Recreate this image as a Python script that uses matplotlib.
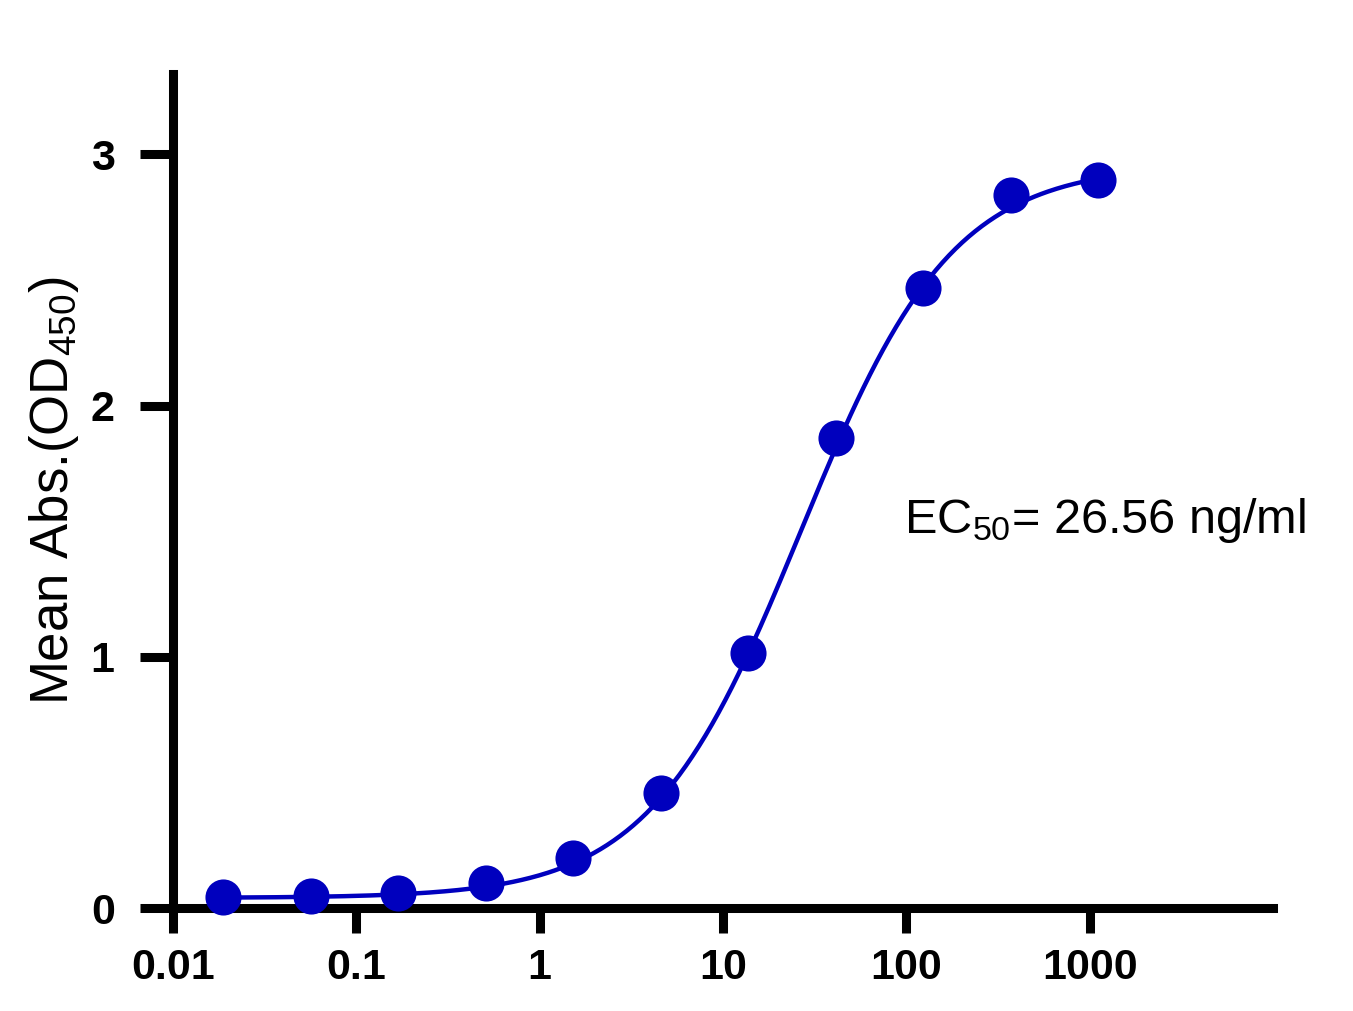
import numpy as np
import matplotlib.pyplot as plt

# three-fold dilution series (ng/ml) and mean OD450
conc = [0.0188, 0.0565, 0.169, 0.508, 1.52, 4.57, 13.7, 41.2, 123.5, 370.4, 1111]
od450 = [0.044, 0.048, 0.060, 0.100, 0.200, 0.458, 1.015, 1.870, 2.467, 2.837, 2.900]

# 4PL fit parameters
bottom = 0.04
top = 2.96
ec50 = 26.56
hill = 1.05

blue = '#0000BE'

plt.rcParams['font.family'] = ['Liberation Sans', 'DejaVu Sans']
plt.rcParams['mathtext.fontset'] = 'custom'
plt.rcParams['mathtext.rm'] = 'Liberation Sans'
plt.rcParams['mathtext.it'] = 'Liberation Sans'
plt.rcParams['mathtext.default'] = 'regular'

fig = plt.figure(figsize=(13.53, 10.11), dpi=100)
ax = fig.add_axes([173/1353, 1 - 908/1011, 1100/1353, 834/1011])

xs = np.logspace(np.log10(conc[0]), np.log10(conc[-1]), 400)
ys = bottom + (top - bottom) / (1 + (ec50 / xs) ** hill)
ax.plot(xs, ys, color=blue, lw=3.2, zorder=2)
ax.plot(conc, od450, 'o', color=blue, ms=26, mec='none', zorder=3, clip_on=False)

ax.set_xscale('log')
ax.set_xlim(0.01, 10000)
ax.set_ylim(0, 3.32)
ax.set_xticks([0.01, 0.1, 1, 10, 100, 1000])
ax.set_xticklabels(['0.01', '0.1', '1', '10', '100', '1000'])
ax.xaxis.set_minor_locator(plt.NullLocator())
ax.set_yticks([0, 1, 2, 3])
ax.set_yticklabels(['0', '1', '2', '3'])

for s in ['top', 'right']:
    ax.spines[s].set_visible(False)
for s in ['left', 'bottom']:
    ax.spines[s].set_linewidth(6.5)
ax.tick_params(width=6.5, labelsize=31)
ax.tick_params(axis='x', length=18, pad=11)
ax.tick_params(axis='y', length=24, pad=18)
for lab in ax.get_xticklabels() + ax.get_yticklabels():
    lab.set_fontweight('bold')

ax.set_ylabel('Mean Abs.(OD$_{450}$)', fontsize=38, labelpad=7)
ax.text(0.665, 0.45, 'EC$_{50}$= 26.56 ng/ml', transform=ax.transAxes, fontsize=35)

fig.savefig('out.png', dpi=100)
